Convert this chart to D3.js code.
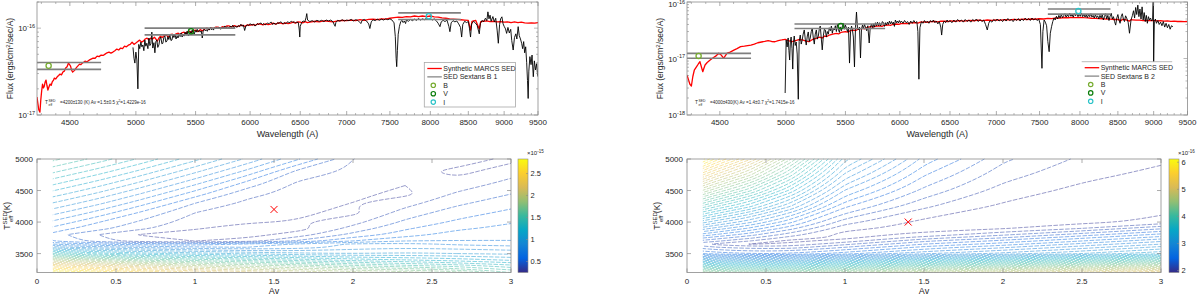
<!DOCTYPE html>
<html>
<head>
<meta charset="utf-8">
<script src="https://cdn.jsdelivr.net/npm/d3@7"></script>
<style>
  body { margin: 0; background: #fff; }
  svg { font-family: "Liberation Sans", Arial, sans-serif; }
</style>
</head>
<body>
<svg id="chart" width="1200" height="295"></svg>
<script>
// ---------------- data ----------------
const waveDomain = [4270, 9500];
const waveTicks = [4500, 5000, 5500, 6000, 6500, 7000, 7500, 8000, 8500, 9000, 9500];

// synthetic MARCS SED, star 1 [wavelength A, flux 1e-17]
const model1 = [[4270,1.61],[4276,1.35],[4282,1.15],[4290,1.08],[4296,1.5],[4302,1.9],[4308,2.27],[4314,2.05],[4320,2.15],[4326,2.4],[4332,2.52],[4338,2.2],[4345,1.94],[4352,2.1],[4360,2.27],[4368,2.2],[4375,2.4],[4383,2.5],[4390,2.66],[4400,2.6],[4410,2.75],[4420,2.85],[4430,2.96],[4440,2.9],[4450,3.12],[4460,3.2],[4470,3.47],[4480,3.6],[4490,3.96],[4498,3.8],[4505,3.66],[4512,3.3],[4520,3.12],[4528,3.2],[4535,3.29],[4543,3.45],[4550,3.56],[4560,3.7],[4570,3.85],[4580,3.8],[4590,3.96],[4600,4.05],[4610,4.17],[4625,4.1],[4640,4.28],[4655,4.4],[4670,4.52],[4685,4.5],[4700,4.76],[4715,4.7],[4730,4.9],[4745,4.85],[4760,5.02],[4775,5.2],[4790,5.3],[4805,5.15],[4820,5.3],[4835,5.5],[4850,5.74],[4865,5.6],[4880,5.9],[4895,5.8],[4910,6.2],[4925,6.1],[4940,6.37],[4955,6.5],[4970,6.9],[4985,6.5],[5000,6.73],[5015,7.0],[5030,7.28],[5045,6.9],[5060,7.08],[5075,7.5],[5090,7.68],[5105,7.3],[5120,7.68],[5135,7.5],[5150,7.87],[5165,7.4],[5175,7.1],[5185,7.6],[5200,8.08],[5215,7.8],[5230,8.2],[5250,8.3],[5265,7.9],[5280,8.4],[5300,8.52],[5315,8.2],[5330,8.6],[5350,8.75],[5365,8.4],[5380,8.8],[5400,8.98],[5415,8.6],[5430,9.1],[5450,9.22],[5465,8.9],[5480,9.35],[5500,9.48],[5520,9.1],[5540,9.6],[5560,9.3],[5580,9.8],[5600,10.0],[5620,9.7],[5640,10.1],[5660,9.9],[5680,10.3],[5700,10.3],[5720,10.0],[5740,10.4],[5760,10.2],[5780,10.6],[5800,10.6],[5825,10.3],[5850,10.7],[5875,10.4],[5900,10.6],[5925,10.8],[5950,10.5],[5975,10.9],[6000,10.8],[6025,11.0],[6050,10.8],[6075,11.2],[6100,11.1],[6125,10.9],[6150,11.2],[6175,11.0],[6200,11.1],[6225,11.4],[6250,11.1],[6275,11.5],[6300,11.4],[6325,11.2],[6350,11.5],[6375,11.3],[6400,11.4],[6425,11.7],[6450,11.4],[6475,11.8],[6500,11.7],[6525,11.5],[6550,11.9],[6575,11.6],[6600,11.7],[6650,12.0],[6700,11.8],[6750,12.1],[6800,12.0],[6850,11.8],[6900,12.1],[6950,12.3],[7000,12.2],[7050,12.4],[7100,12.2],[7150,12.5],[7200,12.3],[7250,12.6],[7300,12.7],[7350,12.5],[7400,12.8],[7450,12.7],[7500,13.0],[7550,13.2],[7600,13.4],[7650,13.3],[7700,13.6],[7750,13.5],[7800,13.8],[7850,13.6],[7900,13.8],[7950,13.6],[8000,13.8],[8050,13.5],[8100,13.4],[8150,13.1],[8200,13.0],[8250,12.8],[8300,12.7],[8350,12.6],[8400,12.5],[8450,12.4],[8500,12.3],[8530,9.5],[8550,12.0],[8600,12.3],[8650,9.8],[8670,11.9],[8700,12.0],[8750,12.1],[8800,11.9],[8850,12.0],[8900,11.8],[8950,11.9],[9000,11.7],[9050,11.8],[9100,11.6],[9150,11.8],[9200,11.6],[9250,11.7],[9300,11.5],[9350,11.4],[9400,11.5],[9450,11.4],[9500,11.6]];

// observed SED, Sextans B 1 [wavelength A, flux 1e-17]
const obs1 = [[4977,6.0],[4985,4.5],[4992,3.96],[5000,5.3],[5008,4.3],[5016,2.0],[5023,6.5],[5031,5.8],[5040,6.9],[5048,6.1],[5056,6.4],[5064,5.5],[5072,7.3],[5080,6.2],[5088,6.7],[5097,5.8],[5105,7.7],[5113,6.3],[5121,6.6],[5129,9.0],[5137,5.9],[5146,6.8],[5154,5.2],[5162,7.0],[5170,7.3],[5178,6.0],[5187,6.4],[5195,7.5],[5203,7.9],[5212,6.6],[5220,6.7],[5228,7.8],[5237,8.1],[5245,6.9],[5254,7.1],[5262,8.0],[5270,7.4],[5279,8.3],[5288,7.2],[5296,7.3],[5305,8.4],[5313,7.8],[5322,8.5],[5331,7.5],[5340,8.1],[5348,7.7],[5357,8.6],[5366,8.0],[5374,8.8],[5383,7.9],[5392,8.4],[5400,8.1],[5409,9.0],[5418,8.3],[5426,9.2],[5435,8.2],[5444,8.3],[5452,9.1],[5461,8.7],[5470,9.5],[5479,8.9],[5488,8.5],[5497,9.4],[5505,9.0],[5514,9.7],[5523,9.1],[5532,9.4],[5541,9.0],[5550,9.3],[5559,7.7],[5568,9.5],[5577,9.7],[5586,9.3],[5595,9.6],[5604,9.2],[5613,9.9],[5622,9.5],[5632,10.2],[5641,9.6],[5650,9.9],[5659,9.5],[5668,10.1],[5678,9.8],[5687,10.2],[5700,9.9],[5712,10.3],[5724,9.7],[5736,10.2],[5749,10.0],[5761,10.6],[5774,10.1],[5786,10.4],[5798,10.0],[5811,10.5],[5824,10.3],[5836,10.8],[5849,10.1],[5862,10.6],[5874,10.2],[5887,10.7],[5900,10.4],[5912,11.1],[5925,10.5],[5936,10.9],[5948,9.4],[5960,10.6],[5972,10.9],[5985,10.7],[5997,11.2],[6009,11.1],[6021,10.8],[6033,11.2],[6046,10.6],[6058,10.8],[6070,11.3],[6083,11.0],[6095,11.4],[6107,11.4],[6120,11.0],[6132,11.3],[6145,10.9],[6157,11.1],[6170,11.5],[6182,11.2],[6195,11.6],[6207,11.7],[6220,11.0],[6232,11.4],[6245,11.2],[6257,11.1],[6270,11.6],[6283,11.3],[6296,11.8],[6308,11.7],[6321,11.2],[6334,11.6],[6346,11.3],[6359,11.4],[6372,11.9],[6385,11.5],[6398,11.8],[6411,12.0],[6424,11.6],[6437,11.9],[6450,11.5],[6463,11.7],[6480,11.6],[6490,9.5],[6495,7.9],[6500,10.5],[6516,11.7],[6530,12.1],[6547,11.8],[6560,13.2],[6568,14.7],[6576,12.4],[6600,11.9],[6625,12.2],[6650,11.8],[6675,12.3],[6700,12.0],[6725,12.3],[6750,11.9],[6775,12.4],[6800,12.1],[6825,12.4],[6850,11.8],[6865,10.8],[6872,10.5],[6880,11.6],[6900,12.3],[6925,12.0],[6950,12.5],[6975,12.1],[7000,12.4],[7025,12.2],[7050,12.6],[7075,12.1],[7100,12.5],[7125,12.3],[7150,11.6],[7160,11.3],[7175,12.3],[7200,12.6],[7225,12.1],[7250,11.2],[7264,9.9],[7280,11.8],[7300,12.5],[7325,12.2],[7350,12.7],[7375,12.3],[7400,12.7],[7425,12.4],[7450,12.8],[7475,12.5],[7500,12.8],[7525,12.4],[7550,11.5],[7565,8.0],[7575,4.5],[7582,3.6],[7590,5.5],[7600,8.5],[7615,10.5],[7630,11.8],[7645,12.3],[7660,11.6],[7675,12.1],[7690,11.3],[7700,12.4],[7725,12.0],[7750,12.6],[7775,12.2],[7800,12.7],[7825,12.3],[7850,12.9],[7875,12.4],[7900,12.8],[7925,12.5],[7950,13.0],[7975,12.6],[8000,12.9],[8025,12.4],[8050,12.8],[8075,12.2],[8100,11.4],[8124,10.4],[8140,11.8],[8165,12.3],[8190,11.9],[8215,12.4],[8240,10.5],[8254,9.1],[8270,11.5],[8295,12.2],[8320,11.8],[8345,12.1],[8370,11.2],[8395,10.2],[8410,7.9],[8425,11.0],[8450,12.0],[8475,11.6],[8500,11.9],[8515,10.0],[8530,7.9],[8545,11.2],[8570,12.0],[8595,11.5],[8620,10.8],[8650,8.6],[8665,11.3],[8690,12.3],[8710,11.8],[8735,13.0],[8755,12.2],[8770,15.4],[8785,12.8],[8800,14.1],[8815,12.0],[8840,13.6],[8860,11.8],[8880,13.0],[8900,9.5],[8917,6.7],[8935,11.0],[8950,12.8],[8968,13.5],[8985,11.2],[9000,10.5],[9020,9.8],[9036,8.7],[9055,10.2],[9075,8.8],[9095,9.7],[9110,7.2],[9131,5.6],[9150,7.8],[9170,8.6],[9185,7.5],[9204,10.4],[9220,8.2],[9238,7.5],[9255,6.7],[9270,5.8],[9285,7.0],[9300,5.2],[9315,6.1],[9330,4.0],[9342,2.5],[9352,1.55],[9362,3.2],[9378,4.7],[9395,3.8],[9410,4.9],[9429,2.76],[9445,4.2],[9462,3.3],[9480,3.9],[9490,3.1],[9500,2.76]];

// synthetic MARCS SED, star 2 [wavelength A, flux 1e-18]
const model2 = [[4270,5.1],[4280,4.2],[4290,3.5],[4300,3.26],[4310,4.8],[4320,6.2],[4336,7.16],[4348,8.0],[4359,8.8],[4370,7.0],[4379,5.84],[4387,6.7],[4395,7.67],[4410,8.5],[4431,9.4],[4450,10.2],[4470,11.0],[4492,12.4],[4510,11.5],[4528,10.1],[4540,11.2],[4553,12.4],[4575,13.0],[4602,14.1],[4625,15.0],[4652,16.2],[4680,16.5],[4705,16.9],[4729,17.3],[4755,18.0],[4781,19.0],[4810,19.6],[4835,20.1],[4861,20.7],[4888,20.0],[4914,19.8],[4940,20.8],[4968,21.3],[4995,21.9],[5020,20.8],[5050,19.8],[5080,20.8],[5105,21.6],[5133,21.4],[5160,20.5],[5189,19.8],[5215,21.5],[5246,22.8],[5280,23.8],[5300,23.0],[5320,25.0],[5340,24.5],[5360,26.0],[5390,27.0],[5421,27.9],[5440,27.2],[5460,28.9],[5500,30.0],[5520,29.3],[5540,30.8],[5573,31.9],[5590,31.2],[5610,33.0],[5650,34.2],[5670,33.5],[5690,35.3],[5728,36.5],[5750,35.8],[5770,37.2],[5810,37.8],[5830,37.0],[5850,38.5],[5890,39.2],[5910,38.6],[5930,40.0],[5970,40.8],[5990,40.1],[6010,41.5],[6057,42.0],[6080,41.4],[6100,42.8],[6150,43.2],[6175,42.4],[6200,44.0],[6250,44.3],[6275,43.6],[6300,44.8],[6350,45.2],[6375,44.5],[6400,45.6],[6450,45.8],[6475,45.0],[6500,46.2],[6550,45.6],[6600,46.8],[6650,46.0],[6700,47.2],[6750,46.6],[6800,47.6],[6850,46.9],[6900,48.0],[6950,47.4],[7000,48.3],[7050,47.7],[7100,48.8],[7150,48.1],[7200,49.2],[7250,48.6],[7300,49.6],[7350,49.0],[7400,50.0],[7450,49.5],[7500,50.5],[7550,50.0],[7600,51.2],[7650,50.8],[7700,52.2],[7750,51.8],[7800,53.2],[7850,52.6],[7900,53.5],[7950,52.9],[8000,53.4],[8050,52.8],[8100,52.5],[8150,51.6],[8200,51.4],[8250,50.7],[8300,50.5],[8350,49.8],[8400,49.8],[8450,49.0],[8500,49.2],[8540,46.5],[8560,49.0],[8600,48.8],[8660,46.0],[8680,48.5],[8700,48.2],[8750,47.6],[8800,47.8],[8850,47.0],[8900,47.4],[8950,46.8],[9000,47.0],[9050,46.3],[9100,46.6],[9150,46.0],[9200,46.2],[9250,45.5],[9300,45.9],[9350,45.2],[9400,45.5],[9450,44.9],[9500,45.2]];

// observed SED, Sextans B 2 [wavelength A, flux 1e-18]
const obs2 = [[4995,2.45],[5003,21.3],[5011,16],[5019,23.1],[5025,14],[5031,9.4],[5037,20],[5043,24.0],[5050,15],[5056,6.5],[5062,19],[5068,25],[5076,17],[5084,19.6],[5092,12],[5101,1.9],[5108,20],[5117,26],[5125,18],[5133,21.3],[5141,27],[5150,32],[5158,22],[5166,17.3],[5175,25],[5183,29.5],[5191,20],[5199,23],[5208,30],[5216,34.5],[5224,24],[5233,18],[5241,27],[5250,32],[5258,22],[5267,25],[5275,33],[5283,37.5],[5291,24],[5300,14.2],[5310,26],[5318,33],[5326,32],[5335,24],[5343,30],[5352,27],[5360,35],[5369,31],[5378,37.5],[5386,28],[5395,34],[5404,32],[5412,38],[5421,30],[5430,40.7],[5438,33],[5447,29],[5456,36.2],[5465,31],[5474,38],[5483,42.5],[5491,33],[5500,39],[5509,34.5],[5518,30],[5527,36],[5536,8.3],[5545,30],[5554,37.5],[5562,32],[5570,24],[5580,7.1],[5589,35],[5598,66.5],[5607,34],[5616,32],[5625,36],[5634,10.2],[5643,33],[5652,39],[5661,34],[5670,40],[5679,36],[5690,31],[5700,38],[5713,18.8],[5722,35],[5734,40.7],[5745,35],[5752,41],[5761,36],[5770,43],[5780,38],[5789,44],[5798,38],[5808,43],[5817,37.5],[5826,41],[5835,45],[5845,42.5],[5854,37],[5863,43],[5872,39],[5882,44],[5891,40],[5901,46],[5910,41],[5920,45],[5929,40.7],[5938,44],[5948,37],[5957,48],[5967,43],[5976,46],[5986,42.5],[5995,47],[6005,43],[6014,46],[6030,42],[6045,47],[6060,43],[6075,45],[6090,40],[6105,46],[6120,42],[6135,47],[6150,43],[6165,45],[6175,30],[6185,4.3],[6195,35],[6210,45],[6225,42],[6240,47],[6255,43],[6270,46],[6285,42],[6300,47],[6315,44],[6330,48],[6345,43],[6360,46],[6375,41],[6390,45],[6405,36],[6414,26],[6425,40],[6440,46],[6455,43],[6470,48],[6485,44],[6500,47],[6520,43],[6540,48],[6560,44],[6580,49],[6600,45],[6620,48],[6640,44],[6660,49],[6680,45],[6700,48],[6720,44],[6740,49],[6760,46],[6780,50],[6800,45],[6820,49],[6840,45],[6860,48],[6880,40],[6899,32],[6915,42],[6930,47],[6950,44],[6970,49],[6990,46],[7010,50],[7030,46],[7050,49],[7070,45],[7090,50],[7110,46],[7130,51],[7150,47],[7170,49],[7190,45],[7210,50],[7230,47],[7250,51],[7270,46],[7290,50],[7310,47],[7330,52],[7350,48],[7370,51],[7390,47],[7410,52],[7430,48],[7450,51],[7470,47],[7490,50],[7510,40],[7529,6.7],[7540,30],[7555,48],[7570,44],[7585,38],[7600,20],[7616,13.2],[7630,28],[7645,36.5],[7660,45],[7675,52],[7690,48],[7705,56],[7720,50],[7735,58],[7750,52],[7765,60],[7780,53],[7795,57],[7810,62],[7825,54],[7840,59],[7855,55],[7870,63],[7885,56],[7900,60],[7915,54],[7930,62],[7945,57],[7960,64],[7975,55],[7990,60],[8005,56],[8020,63],[8035,55],[8050,61],[8065,54],[8080,59],[8095,53],[8110,60],[8125,55],[8140,62],[8155,54],[8170,58],[8185,52],[8200,60],[8215,53],[8230,57],[8245,50],[8260,58],[8275,52],[8290,60],[8305,48],[8320,55],[8335,62],[8350,50],[8365,58],[8380,47],[8395,56],[8410,63],[8425,50],[8440,55],[8455,45],[8470,39],[8485,52],[8500,60],[8515,48],[8530,42],[8545,55],[8560,62],[8575,50],[8590,45],[8605,57],[8620,52],[8640,44],[8659,28],[8680,48],[8700,58],[8715,70],[8730,52],[8745,80],[8760,60],[8775,88],[8790,55],[8805,75],[8820,50],[8835,82],[8850,48],[8865,65],[8880,45],[8895,58],[8910,42],[8925,55],[8940,48],[8955,52],[8970,46],[8985,50],[8995,130],[9000,8.8],[9010,45],[9025,50],[9040,42],[9060,47],[9080,40],[9100,44],[9120,38],[9140,45],[9160,36],[9180,42],[9200,35],[9220,40],[9240,33],[9260,38],[9281,36.5]];

// photometry: band, effective wavelength, band edges, flux and its bounds
const bands = ['B', 'V', 'I'];
const bandColors = ['#77ac30', '#0b7d0b', '#2cc3c8'];
const bandLam = [4350, 5460, 7980];
const bandLo = [3970, 5070, 7600];
const bandHi = [4730, 5860, 8400];
const phot1 = [3.69e-17, 9.2e-17, 13.7e-17];
const phot1Lo = [3.35e-17, 8.37e-17, 12.6e-17];
const phot1Hi = [4.03e-17, 10.0e-17, 15.0e-17];
const phot2 = [1.107e-17, 3.76e-17, 6.9e-17];
const phot2Lo = [1.01e-17, 3.4e-17, 6.1e-17];
const phot2Hi = [1.23e-17, 4.07e-17, 7.5e-17];

// chi^2 grids: rows = Teff, columns = Av
// star 1, units 1e-15
const avGrid1 = [0.1, 0.2, 0.4, 0.65, 1.0, 1.33, 1.66, 2.0, 2.33, 2.66, 3.0];
const teffGrid1 = [3200, 3300, 3400, 3500, 3600, 3650, 3700, 3800, 3900, 4000, 4150, 4300, 4450, 4600, 4800, 5000];
const chi1 = [
  [2.808, 2.765, 2.680, 2.553, 2.340, 2.213, 2.085, 1.958, 1.873, 1.788, 1.575],
  [2.383, 2.340, 2.255, 2.128, 1.958, 1.830, 1.745, 1.618, 1.533, 1.473, 1.363],
  [1.915, 1.873, 1.788, 1.660, 1.533, 1.448, 1.363, 1.278, 1.235, 1.193, 1.133],
  [1.405, 1.363, 1.278, 1.193, 1.108, 1.048, 1.006, 0.980, 0.997, 0.980, 0.963],
  [0.938, 0.895, 0.853, 0.793, 0.742, 0.725, 0.759, 0.853, 0.878, 0.861, 0.836],
  [0.725, 0.691, 0.640, 0.598, 0.581, 0.657, 0.742, 0.827, 0.836, 0.793, 0.776],
  [0.559, 0.513, 0.419, 0.330, 0.299, 0.334, 0.487, 0.640, 0.725, 0.729, 0.728],
  [0.525, 0.466, 0.381, 0.296, 0.262, 0.266, 0.343, 0.496, 0.598, 0.683, 0.695],
  [0.618, 0.569, 0.498, 0.405, 0.309, 0.258, 0.266, 0.415, 0.542, 0.623, 0.666],
  [0.707, 0.658, 0.555, 0.458, 0.339, 0.310, 0.292, 0.355, 0.487, 0.572, 0.632],
  [0.841, 0.792, 0.689, 0.549, 0.386, 0.337, 0.316, 0.275, 0.423, 0.513, 0.576],
  [0.976, 0.926, 0.824, 0.680, 0.471, 0.365, 0.335, 0.298, 0.351, 0.453, 0.521],
  [1.110, 1.061, 0.958, 0.814, 0.600, 0.411, 0.354, 0.324, 0.275, 0.398, 0.468],
  [1.244, 1.193, 1.092, 0.949, 0.734, 0.513, 0.364, 0.347, 0.304, 0.334, 0.419],
  [1.422, 1.371, 1.269, 1.128, 0.912, 0.698, 0.436, 0.370, 0.330, 0.275, 0.347],
  [1.601, 1.550, 1.448, 1.306, 1.091, 0.877, 0.644, 0.386, 0.351, 0.351, 0.275]
];
// star 2, units 1e-16
const avGrid2 = [0.1, 0.2, 0.4, 0.65, 1.0, 1.5, 2.0, 2.5, 3.0];
const teffGrid2 = [3200, 3300, 3400, 3500, 3600, 3650, 3700, 3750, 3800, 3900, 4000, 4250, 4500, 4750, 5000];
const chi2 = [
  [4.45, 4.40, 4.35, 4.35, 4.50, 4.73, 4.88, 5.05, 5.23],
  [3.80, 3.75, 3.70, 3.70, 3.85, 4.08, 4.23, 4.40, 4.58],
  [3.15, 3.10, 3.05, 3.05, 3.20, 3.43, 3.58, 3.75, 3.93],
  [2.50, 2.45, 2.40, 2.40, 2.55, 2.78, 2.93, 3.10, 3.28],
  [2.25, 2.20, 2.15, 2.15, 2.30, 2.53, 2.68, 2.85, 3.03],
  [2.12, 2.07, 1.995, 2.025, 2.175, 2.40, 2.55, 2.73, 2.90],
  [2.27, 2.21, 2.10, 1.97, 2.05, 2.28, 2.43, 2.60, 2.78],
  [2.41, 2.34, 2.22, 2.06, 1.97, 2.15, 2.30, 2.48, 2.65],
  [2.56, 2.48, 2.34, 2.15, 1.96, 2.03, 2.18, 2.35, 2.53],
  [2.85, 2.75, 2.58, 2.34, 2.03, 1.96, 1.99, 2.10, 2.28],
  [3.14, 3.02, 2.82, 2.53, 2.14, 1.97, 1.95, 1.97, 2.03],
  [3.86, 3.69, 3.42, 3.01, 2.42, 2.12, 1.98, 1.95, 1.96],
  [4.59, 4.37, 4.02, 3.48, 2.69, 2.27, 2.06, 1.97, 1.95],
  [5.31, 5.04, 4.62, 3.96, 2.97, 2.41, 2.14, 2.03, 1.97],
  [6.04, 5.72, 5.22, 4.43, 3.24, 2.56, 2.22, 2.08, 2.02]
];
const avTicks = [0, 0.5, 1, 1.5, 2, 2.5, 3];
const teffTicks = [3500, 4000, 4500, 5000];
const cbTicks1 = [0.5, 1, 1.5, 2, 2.5];
const cbTicks2 = [2, 3, 4, 5, 6];

// ---------------- drawing ----------------
const svg = d3.select('#chart');
const ink = '#262626';
const boxColor = '#8a8a8a';
const parula = ['#352a87', '#0363e1', '#1485d4', '#06a7c6', '#38b99e', '#92bf73', '#d9ba56', '#fcce2e', '#f9fb0e'];
const defs = svg.append('defs');

function supText(sel, base, sup, size, supSize) {
  sel.append('tspan').style('font-size', size + 'px').text(base);
  sel.append('tspan').style('font-size', supSize + 'px').attr('dy', -size * 0.4).text(sup);
}

function sedPanel(cfg) {
  const g = svg.append('g');
  const x = d3.scaleLog().domain(waveDomain).range([cfg.left, cfg.left + cfg.width]);
  const y = d3.scaleLog().domain(cfg.fluxDomain).range([cfg.top + cfg.height, cfg.top]);

  defs.append('clipPath').attr('id', 'clip' + cfg.id)
    .append('rect').attr('x', cfg.left).attr('y', cfg.top).attr('width', cfg.width).attr('height', cfg.height);
  const plot = g.append('g').attr('clip-path', `url(#clip${cfg.id})`);

  const line = d3.line().x(d => x(d[0])).y(d => y(d[1] * cfg.unit));
  plot.append('path').datum(cfg.model).attr('d', line)
    .attr('fill', 'none').attr('stroke', '#ff0000').attr('stroke-width', 1.3).attr('stroke-linejoin', 'round');
  plot.append('path').datum(cfg.obs).attr('d', line)
    .attr('fill', 'none').attr('stroke', '#000').attr('stroke-width', 0.9);

  bands.forEach((b, i) => {
    [cfg.photHi[i], cfg.photLo[i]].forEach(f => {
      plot.append('line')
        .attr('x1', x(bandLo[i])).attr('x2', x(bandHi[i]))
        .attr('y1', y(f)).attr('y2', y(f))
        .attr('stroke', '#7f7f7f').attr('stroke-width', 1.6);
    });
    plot.append('circle')
      .attr('cx', x(bandLam[i])).attr('cy', y(cfg.phot[i])).attr('r', 2.6)
      .attr('fill', 'none').attr('stroke', bandColors[i]).attr('stroke-width', 1.3);
  });

  // box
  g.append('rect').attr('x', cfg.left).attr('y', cfg.top).attr('width', cfg.width).attr('height', cfg.height)
    .attr('fill', 'none').attr('stroke', boxColor).attr('stroke-width', 0.8);

  // x ticks
  const bottom = cfg.top + cfg.height;
  const minor = d3.range(4300, 9500, 100).filter(v => v % 500 !== 0);
  minor.forEach(v => {
    g.append('line').attr('x1', x(v)).attr('x2', x(v)).attr('y1', bottom).attr('y2', bottom - 2).attr('stroke', boxColor).attr('stroke-width', 0.6);
    g.append('line').attr('x1', x(v)).attr('x2', x(v)).attr('y1', cfg.top).attr('y2', cfg.top + 2).attr('stroke', boxColor).attr('stroke-width', 0.6);
  });
  waveTicks.forEach(v => {
    g.append('line').attr('x1', x(v)).attr('x2', x(v)).attr('y1', bottom).attr('y2', bottom - 4).attr('stroke', boxColor).attr('stroke-width', 0.7);
    g.append('line').attr('x1', x(v)).attr('x2', x(v)).attr('y1', cfg.top).attr('y2', cfg.top + 4).attr('stroke', boxColor).attr('stroke-width', 0.7);
    g.append('text').attr('x', x(v)).attr('y', bottom + 10).attr('text-anchor', 'middle')
      .style('font-size', '8px').attr('fill', ink).text(v);
  });

  // y ticks (log)
  const [lo, hi] = cfg.fluxDomain;
  const e0 = Math.floor(Math.log10(lo)), e1 = Math.ceil(Math.log10(hi));
  for (let e = e0; e <= e1; e++) {
    for (let k = 1; k <= 9; k++) {
      const v = k * Math.pow(10, e);
      if (v < lo * 0.999 || v > hi * 1.001) continue;
      const len = k === 1 ? 4 : 2;
      g.append('line').attr('x1', cfg.left).attr('x2', cfg.left + len).attr('y1', y(v)).attr('y2', y(v)).attr('stroke', boxColor).attr('stroke-width', 0.6);
      g.append('line').attr('x1', cfg.left + cfg.width).attr('x2', cfg.left + cfg.width - len).attr('y1', y(v)).attr('y2', y(v)).attr('stroke', boxColor).attr('stroke-width', 0.6);
      if (k === 1) {
        g.append('text').attr('x', cfg.left - 2).attr('y', Math.max(y(v) + 3, 7)).attr('text-anchor', 'end').attr('fill', ink)
          .call(t => supText(t, '10', String(e), 8, 5.5));
      }
    }
  }

  // axis labels
  g.append('text').attr('x', cfg.left + cfg.width / 2).attr('y', bottom + 22).attr('text-anchor', 'middle')
    .style('font-size', '9px').attr('fill', ink).text('Wavelength (A)');
  g.append('text').attr('transform', `translate(${cfg.left - 24},${cfg.top + cfg.height / 2}) rotate(-90)`)
    .attr('text-anchor', 'middle').attr('fill', ink).style('font-size', '8.5px')
    .call(t => {
      t.append('tspan').text('Flux (ergs/cm');
      t.append('tspan').attr('dy', -3).style('font-size', '6px').text('2');
      t.append('tspan').attr('dy', 3).text('/sec/A)');
    });

  // fit annotation
  const ax = cfg.left + 8, ay = bottom - 11;
  const ann = g.append('g').attr('fill', ink);
  ann.append('text').attr('x', ax).attr('y', ay).style('font-size', '4.8px').text('T');
  ann.append('text').attr('x', ax + 3.6).attr('y', ay - 2.4).style('font-size', '3.4px').text('SED');
  ann.append('text').attr('x', ax + 3.6).attr('y', ay + 2.2).style('font-size', '3.4px').text('eff');
  ann.append('text').attr('x', ax + 15).attr('y', ay).style('font-size', '4.5px')
    .call(t => {
      t.append('tspan').text(cfg.fitText[0]);
      t.append('tspan').attr('dy', -1.8).style('font-size', '3.3px').text('2');
      t.append('tspan').attr('dy', 1.8).text(cfg.fitText[1]);
    });

  // legend
  const L = cfg.legend;
  if (L.fullBox) {
    g.append('rect').attr('x', L.x).attr('y', L.y).attr('width', L.w).attr('height', L.h)
      .attr('fill', '#fff').attr('stroke', '#a8a8a8').attr('stroke-width', 0.8);
  } else {
    g.append('line').attr('x1', L.x).attr('x2', L.x + L.w).attr('y1', L.y).attr('y2', L.y)
      .attr('stroke', '#a8a8a8').attr('stroke-width', 0.8);
  }
  const rows = [
    {label: 'Synthetic MARCS SED', type: 'line', color: '#ff0000', w: 1.3},
    {label: cfg.obsLabel, type: 'line', color: '#555', w: 0.9},
    ...bands.map((b, i) => ({label: b, type: 'circle', color: bandColors[i]}))
  ];
  rows.forEach((r, i) => {
    const ry = L.y + 6 + i * 8.4;
    if (r.type === 'line') {
      g.append('line').attr('x1', L.x + 3).attr('x2', L.x + 17.5).attr('y1', ry).attr('y2', ry)
        .attr('stroke', r.color).attr('stroke-width', r.w);
    } else {
      g.append('circle').attr('cx', L.x + 9).attr('cy', ry).attr('r', 2.2)
        .attr('fill', 'none').attr('stroke', r.color).attr('stroke-width', 1.2);
    }
    g.append('text').attr('x', L.x + 19).attr('y', ry + 2.5).style('font-size', '7px').attr('fill', ink).text(r.label);
  });
}

function contourPanel(cfg) {
  const g = svg.append('g');
  const x = d3.scaleLinear().domain([0, 3]).range([cfg.left, cfg.left + cfg.width]);
  const y = d3.scaleLinear().domain([3200, 5000]).range([cfg.top + cfg.height, cfg.top]);
  const nx = cfg.avs.length, ny = cfg.teffs.length;
  const ix = d3.scaleLinear().domain(d3.range(nx)).range(cfg.avs);
  const iy = d3.scaleLinear().domain(d3.range(ny)).range(cfg.teffs);
  const color = d3.scaleLinear()
    .domain(parula.map((c, i) => cfg.cDomain[0] + i * (cfg.cDomain[1] - cfg.cDomain[0]) / (parula.length - 1)))
    .range(parula).clamp(true);

  const flat = cfg.grid.flat();
  const levels = d3.range(0, 80).map(k => cfg.levelStart + k * cfg.levelStep).filter(v => v < cfg.cDomain[1]);
  const contours = d3.contours().size([nx, ny]).thresholds(levels)(flat);

  // grid-space point -> clamped fractional grid index
  const gxy = p => [Math.min(Math.max(p[0] - 0.5, 0), nx - 1), Math.min(Math.max(p[1] - 0.5, 0), ny - 1)];
  const onEdge = (a, b) => {
    const A = gxy(a), B = gxy(b);
    return (A[0] === 0 && B[0] === 0) || (A[0] === nx - 1 && B[0] === nx - 1) ||
      (A[1] === 0 && B[1] === 0) || (A[1] === ny - 1 && B[1] === ny - 1);
  };
  const line = d3.line()
    .x(p => x(ix(gxy(p)[0])))
    .y(p => y(iy(gxy(p)[1])))
    .curve(d3.curveBasis);

  const plot = g.append('g');
  contours.forEach((c, k) => {
    c.coordinates.forEach(poly => poly.forEach(ring => {
      let seg = [];
      const parts = [];
      for (let i = 0; i < ring.length - 1; i++) {
        const a = ring[i], b = ring[i + 1];
        if (onEdge(a, b)) {
          if (seg.length > 1) parts.push(seg);
          seg = [];
        } else {
          if (!seg.length) seg.push(a);
          seg.push(b);
        }
      }
      if (seg.length > 1) parts.push(seg);
      parts.forEach(p => {
        plot.append('path').attr('d', line(p)).attr('fill', 'none')
          .attr('stroke', color(c.value)).attr('stroke-width', 0.75)
          .attr('stroke-opacity', 0.65).attr('stroke-dasharray', '4.5 1.4')
          .attr('stroke-dashoffset', (k * 2.3) % 5.9);
      });
    }));
  });

  // best fit marker
  const bx = x(cfg.best[0]), by = y(cfg.best[1]);
  g.append('path').attr('d', `M${bx - 3.5},${by - 3.5}L${bx + 3.5},${by + 3.5}M${bx - 3.5},${by + 3.5}L${bx + 3.5},${by - 3.5}`)
    .attr('stroke', '#ff0000').attr('stroke-width', 1);

  // box and ticks
  const bottom = cfg.top + cfg.height, right = cfg.left + cfg.width;
  g.append('rect').attr('x', cfg.left).attr('y', cfg.top).attr('width', cfg.width).attr('height', cfg.height)
    .attr('fill', 'none').attr('stroke', boxColor).attr('stroke-width', 0.8);
  avTicks.forEach(v => {
    g.append('line').attr('x1', x(v)).attr('x2', x(v)).attr('y1', bottom).attr('y2', bottom - 4).attr('stroke', boxColor).attr('stroke-width', 0.7);
    g.append('line').attr('x1', x(v)).attr('x2', x(v)).attr('y1', cfg.top).attr('y2', cfg.top + 4).attr('stroke', boxColor).attr('stroke-width', 0.7);
    g.append('text').attr('x', x(v)).attr('y', bottom + 11).attr('text-anchor', 'middle')
      .style('font-size', '8px').attr('fill', ink).text(v);
  });
  teffTicks.forEach(v => {
    g.append('line').attr('x1', cfg.left).attr('x2', cfg.left + 4).attr('y1', y(v)).attr('y2', y(v)).attr('stroke', boxColor).attr('stroke-width', 0.7);
    g.append('line').attr('x1', right).attr('x2', right - 4).attr('y1', y(v)).attr('y2', y(v)).attr('stroke', boxColor).attr('stroke-width', 0.7);
    g.append('text').attr('x', cfg.left - 4).attr('y', y(v) + 3).attr('text-anchor', 'end')
      .style('font-size', '8px').attr('fill', ink).text(v);
  });
  g.append('text').attr('x', cfg.left + cfg.width / 2).attr('y', bottom + 21).attr('text-anchor', 'middle')
    .style('font-size', '9px').attr('fill', ink).text('Av');
  g.append('text').attr('transform', `translate(${cfg.left - 27},${cfg.top + cfg.height / 2}) rotate(-90)`)
    .attr('text-anchor', 'middle').attr('fill', ink).style('font-size', '8.5px')
    .call(t => {
      t.append('tspan').text('T');
      t.append('tspan').attr('dy', -3.2).style('font-size', '6px').text('SED');
      t.append('tspan').attr('dx', -10).attr('dy', 6.4).style('font-size', '6px').text('eff');
      t.append('tspan').attr('dy', -3.2).text(' (K)');
    });

  // colorbar
  const cb = cfg.colorbar;
  const gid = 'grad' + cfg.id;
  const grad = defs.append('linearGradient').attr('id', gid).attr('x1', 0).attr('x2', 0).attr('y1', 1).attr('y2', 0);
  parula.forEach((c, i) => grad.append('stop').attr('offset', i / (parula.length - 1)).attr('stop-color', c));
  g.append('rect').attr('x', cb.x).attr('y', cfg.top).attr('width', cb.w).attr('height', cfg.height)
    .attr('fill', `url(#${gid})`).attr('stroke', boxColor).attr('stroke-width', 0.6);
  const cy = d3.scaleLinear().domain(cfg.cDomain).range([bottom, cfg.top]);
  cfg.cbTicks.forEach(v => {
    g.append('line').attr('x1', cb.x + cb.w).attr('x2', cb.x + cb.w - 2).attr('y1', cy(v)).attr('y2', cy(v)).attr('stroke', boxColor).attr('stroke-width', 0.6);
    g.append('text').attr('x', cb.x + cb.w + 2.5).attr('y', cy(v) + 2.7).style('font-size', '7.5px').attr('fill', ink).text(v);
  });
  g.append('text').attr('x', cb.x + cb.w - 1).attr('y', cfg.top - 4).attr('fill', ink)
    .call(t => supText(t, '×10', cfg.cbExp, 6, 4.5));
}

sedPanel({
  id: 's1', left: 37, top: 2, width: 501, height: 113, fluxDomain: [1e-17, 2e-16], unit: 1e-17,
  model: model1, obs: obs1, phot: phot1, photLo: phot1Lo, photHi: phot1Hi,
  obsLabel: 'SED Sextans B 1',
  fitText: ['=4200±130 (K) Av =1.5±0.5 χ', '=1.4229e-16'],
  legend: {x: 424.3, y: 62.5, w: 91.2, h: 44.5, fullBox: true}
});
sedPanel({
  id: 's2', left: 687, top: 2, width: 500.5, height: 113, fluxDomain: [1e-18, 1e-16], unit: 1e-18,
  model: model2, obs: obs2, phot: phot2, photLo: phot2Lo, photHi: phot2Hi,
  obsLabel: 'SED Sextans B 2',
  fitText: ['=4000±430(K) Av =1.4±0.7 χ', '=1.7415e-16'],
  legend: {x: 1081.7, y: 61.7, w: 90.5, h: 44.5, fullBox: false}
});
contourPanel({
  id: 'c1', left: 37, top: 159, width: 474, height: 113.5, grid: chi1, avs: avGrid1, teffs: teffGrid1,
  cDomain: [0.25, 2.83], levelStart: 0.30, levelStep: 0.085, best: [1.5, 4200],
  colorbar: {x: 518, w: 10}, cbTicks: cbTicks1, cbExp: '-15'
});
contourPanel({
  id: 'c2', left: 687, top: 159, width: 474, height: 113.5, grid: chi2, avs: avGrid2, teffs: teffGrid2,
  cDomain: [1.93, 6.12], levelStart: 2.0, levelStep: 0.1, best: [1.4, 4000],
  colorbar: {x: 1169, w: 10}, cbTicks: cbTicks2, cbExp: '-16'
});
</script>
</body>
</html>
